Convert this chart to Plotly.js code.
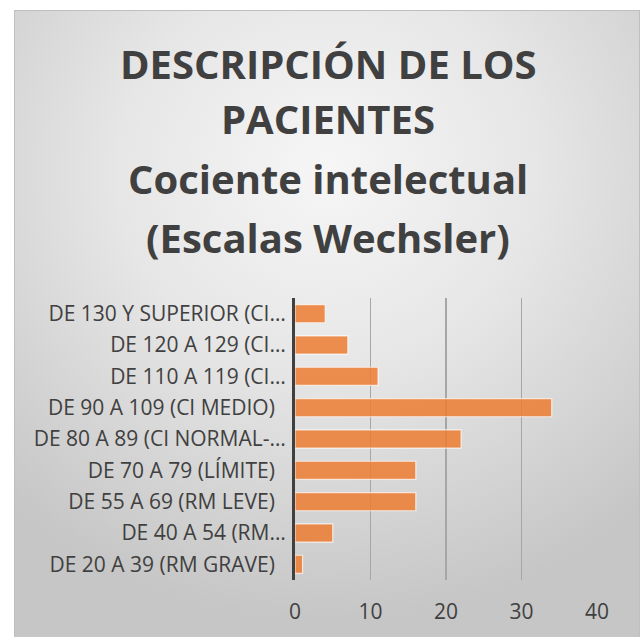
<!DOCTYPE html>
<html>
<head>
<meta charset="utf-8">
<script src="https://cdn.plot.ly/plotly-3.0.1.min.js"></script>
<style>
html,body{margin:0;padding:0;background:#ffffff;}
#wrap{position:absolute;left:0;top:0;width:642px;height:637px;}
#frame{position:absolute;left:14px;top:10px;width:624px;height:640px;border:1px solid #bfbfbf;
 background:radial-gradient(ellipse 75% 70% at 50% 25%, #f6f6f6 0%, #e6e6e6 45%, #c6c6c6 100%);}
#chart{position:absolute;left:0;top:0;width:642px;height:637px;}
</style>
</head>
<body>
<div id="wrap"><div id="frame"></div><div id="chart"></div></div>
<script>
var categories = [
  "DE 20 A 39 (RM GRAVE)\u00a0\u00a0",
  "DE 40 A 54 (RM…",
  "DE 55 A 69 (RM LEVE)\u00a0\u00a0",
  "DE 70 A 79 (LÍMITE)\u00a0\u00a0",
  "DE 80 A 89 (CI NORMAL-…",
  "DE 90 A 109 (CI MEDIO)\u00a0\u00a0",
  "DE 110 A 119 (CI…",
  "DE 120 A 129 (CI…",
  "DE 130 Y SUPERIOR (CI…"
];
var values = [1, 5, 16, 16, 22, 34, 11, 7, 4];
var xTicks = [0, 10, 20, 30, 40];
var titleLines = ["DESCRIPCIÓN DE LOS", "PACIENTES", "Cociente intelectual", "(Escalas Wechsler)"];

var titleFont = "'Open Sans', Lato, sans-serif";
var tickFont = "'Open Sans', Lato, sans-serif";
var plotTop = 298, plotBottom = 580, plotLeft = 295, plotRight = 597;
var titlePx = [63, 119, 178, 238];
var annotations = titleLines.map(function(t, i){
  return {text: "<b>" + t + "</b>", xref: "paper", yref: "paper",
    x: (328 - plotLeft) / (plotRight - plotLeft),
    y: (plotBottom - titlePx[i]) / (plotBottom - plotTop),
    xanchor: "center", yanchor: "middle", showarrow: false,
    font: {family: titleFont, size: 40, color: "#404040"}};
});

var trace = {
  type: "bar", orientation: "h",
  y: categories, x: values,
  marker: {color: "rgba(237,125,49,0.85)", line: {color: "rgba(255,255,255,0.7)", width: 1.2}},
  hoverinfo: "none"
};
var layout = {
  width: 642, height: 637,
  margin: {l: plotLeft, r: 642 - plotRight, t: plotTop, b: 637 - plotBottom, pad: 0},
  paper_bgcolor: "rgba(0,0,0,0)", plot_bgcolor: "rgba(0,0,0,0)",
  bargap: 0.42,
  showlegend: false,
  annotations: annotations,
  xaxis: {range: [0, 40], tickvals: xTicks, showgrid: true, gridcolor: "#a6a6a6", gridwidth: 1.3,
    zeroline: false, showline: false, ticks: "outside", ticklen: 13, tickcolor: "rgba(0,0,0,0)",
    tickfont: {family: tickFont, size: 21, color: "#404040"}, fixedrange: true},
  yaxis: {type: "category", categoryorder: "array", categoryarray: categories,
    showline: true, linecolor: "#404040", linewidth: 3, showgrid: false, zeroline: false,
    ticks: "", ticklabelstandoff: 2,
    tickfont: {family: tickFont, size: 21, color: "#404040"}, fixedrange: true}
};
Plotly.newPlot("chart", [trace], layout, {displayModeBar: false, staticPlot: true});
</script>
</body>
</html>
